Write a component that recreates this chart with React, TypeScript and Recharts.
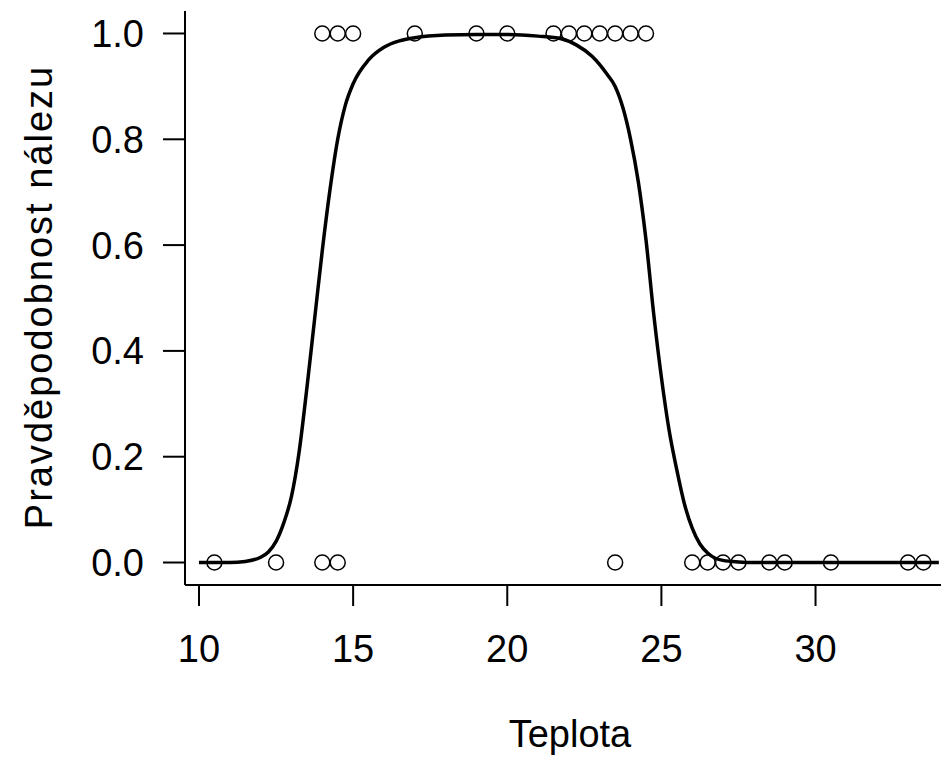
import React from "react"
import { ComposedChart, Line, Scatter, XAxis, YAxis } from "recharts"

// observed temperatures where the species was found (1) / not found (0)
const presentTemps = [14, 14.5, 15, 17, 19, 20, 21.5, 22, 22.5, 23, 23.5, 24, 24.5]
const absentTemps = [10.5, 12.5, 14, 14.5, 23.5, 26, 26.5, 27, 27.5, 28.5, 29, 30.5, 33, 33.5]

// fitted curve
const curveTemps = [
  10, 10.5, 11, 11.5, 12, 12.25, 12.5, 12.75, 13, 13.25, 13.5, 13.75, 14, 14.25, 14.5, 14.75, 15, 15.5, 16, 16.5,
  17, 18, 19, 20, 21, 21.75, 22.25, 22.75, 23.25, 23.5, 23.75, 24, 24.25, 24.5, 24.75, 25, 25.25, 25.5, 25.75, 26,
  26.25, 26.5, 26.75, 27, 27.5, 28, 30, 34,
]
const curveProb = [
  0, 0, 0, 0.002, 0.01, 0.02, 0.04, 0.075, 0.125, 0.21, 0.33, 0.46, 0.59, 0.705, 0.8, 0.865, 0.905, 0.95, 0.974,
  0.986, 0.992, 0.997, 0.998, 0.998, 0.995, 0.99, 0.978, 0.957, 0.922, 0.9, 0.86, 0.8, 0.72, 0.61, 0.47, 0.35, 0.25,
  0.175, 0.11, 0.065, 0.035, 0.018, 0.008, 0.004, 0.001, 0, 0, 0,
]

const xTicks = [10, 15, 20, 25, 30]
const yTicks = [0, 0.2, 0.4, 0.6, 0.8, 1.0]

const points = [
  ...presentTemps.map((x) => ({ x, p: 1 })),
  ...absentTemps.map((x) => ({ x, p: 0 })),
]
const curve = curveTemps.map((x, i) => ({ x, p: curveProb[i] }))

const font = "Arial, 'Liberation Sans', sans-serif"
const fontSize = 38

const OpenCircle = (props: any) => (
  <circle cx={props.cx} cy={props.cy} r={7.5} fill="none" stroke="#000" strokeWidth={1.5} />
)

const XTitle = () => (
  <text x={570} y={747} textAnchor="middle" fontFamily={font} fontSize={fontSize} fill="#000">
    Teplota
  </text>
)

const YTitle = () => (
  <text
    x={52}
    y={297}
    transform="rotate(-90 52 297)"
    textAnchor="middle"
    fontFamily={font}
    fontSize={fontSize}
    letterSpacing={2}
    fill="#000"
  >
    Pravděpodobnost nálezu
  </text>
)

export default function App() {
  const axisStroke = { stroke: "#000", strokeWidth: 2 }
  const tick = { fill: "#000", fontSize, fontFamily: font }
  return (
    <div style={{ position: "absolute", left: 0, top: 0, width: 941, height: 762, background: "#fff", overflow: "hidden" }}>
      <ComposedChart width={941} height={762} margin={{ top: 11, right: 0, bottom: 0, left: 0 }}>
        <XAxis
          type="number"
          dataKey="x"
          domain={[9.546, 34.07]}
          ticks={xTicks}
          interval={0}
          allowDataOverflow
          height={177}
          tickSize={21}
          tickMargin={29}
          axisLine={axisStroke}
          tickLine={axisStroke}
          tick={tick}
          label={<XTitle />}
        />
        <YAxis
          type="number"
          dataKey="p"
          domain={[-0.0425, 1.0425]}
          ticks={yTicks}
          interval={0}
          allowDataOverflow
          width={185}
          tickSize={22}
          tickMargin={19}
          tickFormatter={(v: number) => v.toFixed(1)}
          axisLine={axisStroke}
          tickLine={axisStroke}
          tick={tick}
          label={<YTitle />}
        />
        <Scatter data={points} dataKey="p" shape={OpenCircle} isAnimationActive={false} />
        <Line
          data={curve}
          dataKey="p"
          type="monotone"
          stroke="#000"
          strokeWidth={3.5}
          dot={false}
          activeDot={false}
          isAnimationActive={false}
        />
      </ComposedChart>
    </div>
  )
}
